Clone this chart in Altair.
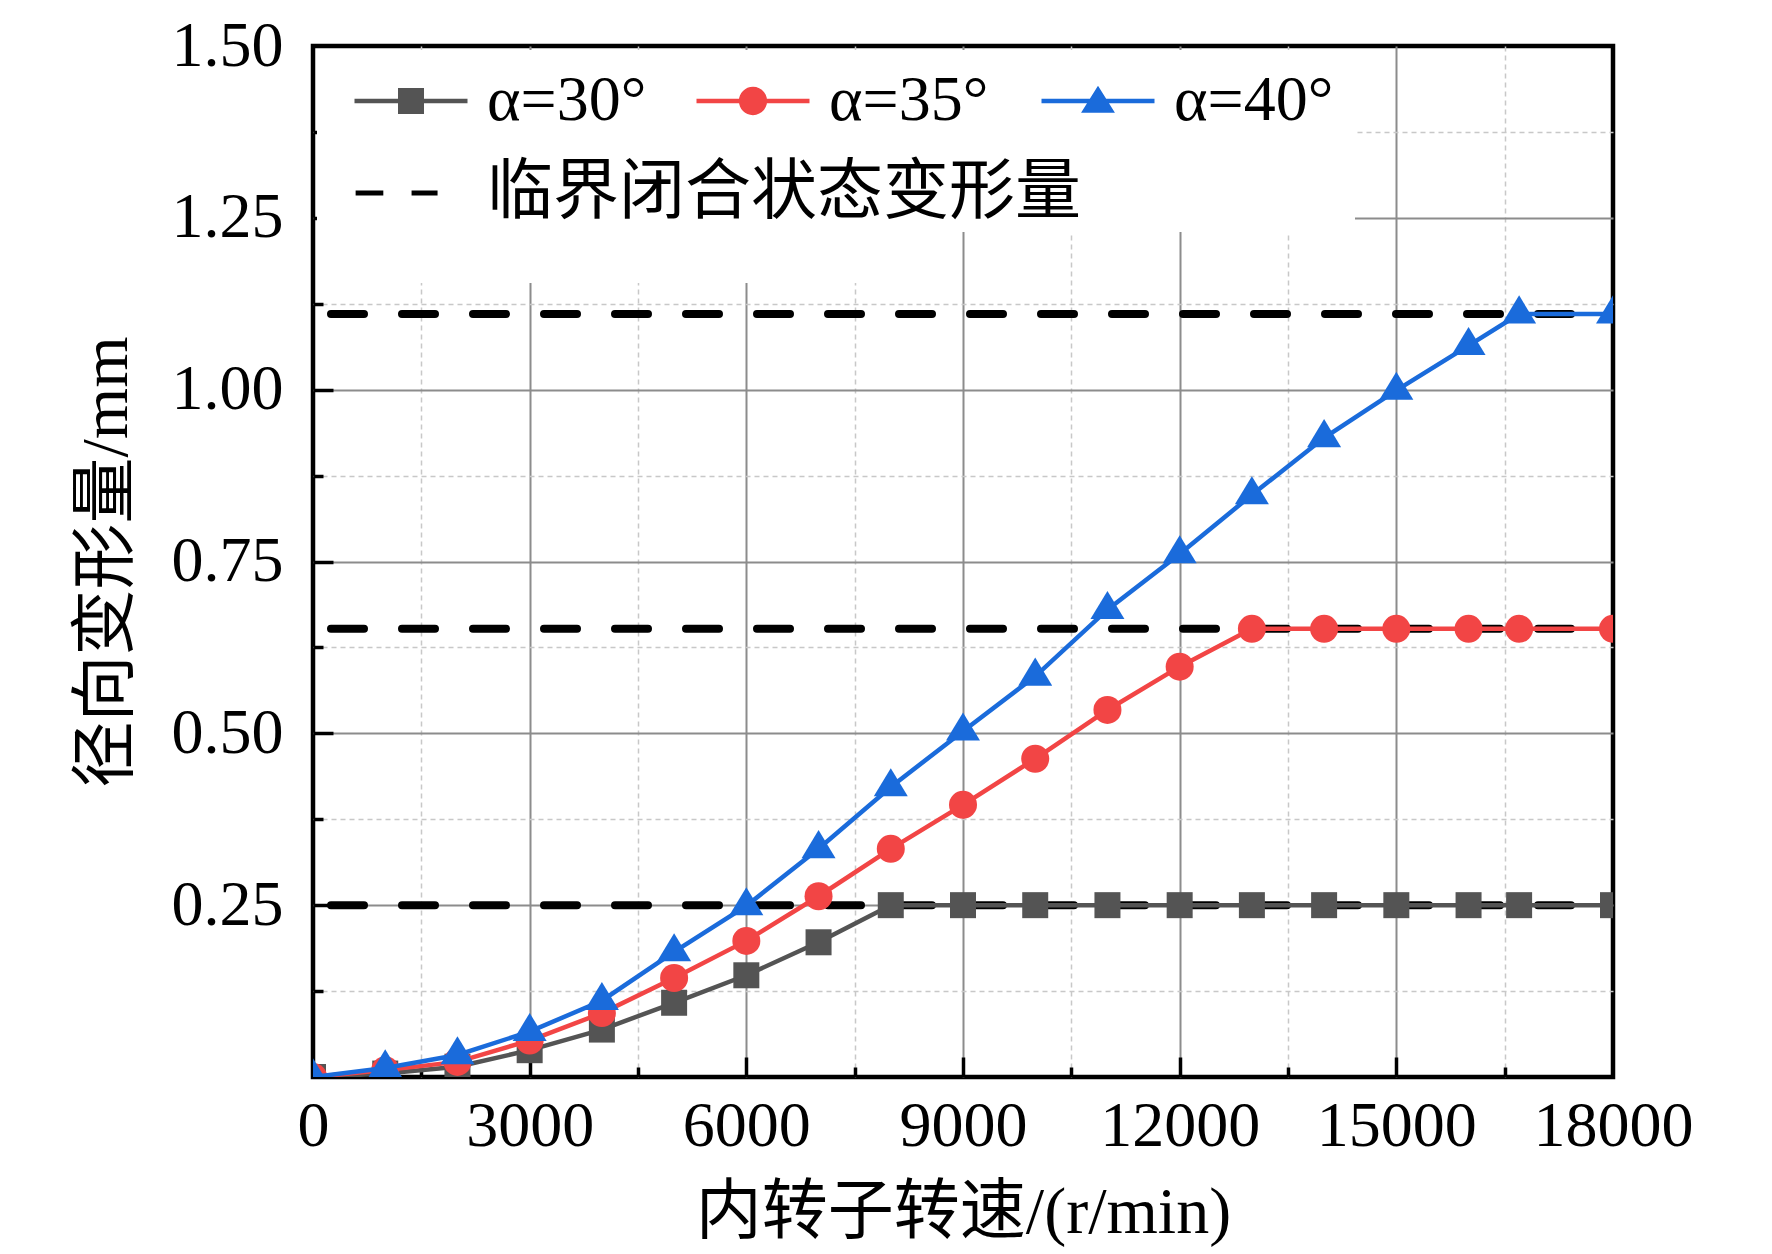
import altair as alt
import pandas as pd

# ---------------- data ----------------
rpm = [0, 1000, 2000, 3000, 4000, 5000, 6000, 7000, 8000, 9000, 10000,
       11000, 12000, 13000, 14000, 15000, 16000, 16700, 18000]
a30 = [0, 0.005, 0.015, 0.039, 0.069, 0.108, 0.148, 0.196, 0.25, 0.25,
       0.25, 0.25, 0.25, 0.25, 0.25, 0.25, 0.25, 0.25, 0.25]
a35 = [0, 0.010, 0.022, 0.053, 0.093, 0.144, 0.198, 0.263, 0.332, 0.396,
       0.463, 0.534, 0.597, 0.652, 0.652, 0.652, 0.652, 0.652, 0.652]
a40 = [0, 0.013, 0.032, 0.066, 0.111, 0.182, 0.249, 0.332, 0.422, 0.503,
       0.583, 0.680, 0.761, 0.847, 0.930, 0.999, 1.064, 1.110, 1.110]
critical = [0.25, 0.652, 1.110]

series = ["α=30°", "α=35°", "α=40°"]
crit_label = "临界闭合状态变形量"
colors = ["#545454", "#F24545", "#1A6BDB"]

y_major = [0.25, 0.5, 0.75, 1.0, 1.25]
y_labels = [0.25, 0.5, 0.75, 1.0, 1.25, 1.5]
y_minor = [0.125, 0.375, 0.625, 0.875, 1.125, 1.375]
x_labels = [0, 3000, 6000, 9000, 12000, 15000, 18000]
x_major = [3000, 6000, 9000, 12000, 15000]
x_minor = [1500, 4500, 7500, 10500, 13500, 16500]

# ---------------- layout constants ----------------
W, H = 1300, 1031
F = "Liberation Serif, Noto Sans CJK SC"

xs = alt.Scale(domain=[0, 18000], nice=False, zero=False)
ys = alt.Scale(domain=[0, 1.5], nice=False, zero=False)

df = pd.DataFrame({"rpm": rpm * 3, "v": a30 + a35 + a40,
                   "s": [series[0]] * len(rpm) + [series[1]] * len(rpm) + [series[2]] * len(rpm)})
crit_df = pd.DataFrame({"c": critical})
empty = alt.Data(values=[])

tri_pt = "M0,-1.1L1,0.55L-1,0.55Z"
shapes_pt = ["square", "circle", tri_pt]
sizes_pt = [676, 784, 1156]

# legend symbols: line stub + marker
stub = "M-1,-0.04L1,-0.04L1,0.04L-1,0.04Z "
leg_paths = [
    stub + "M-0.23,-0.23L0.23,-0.23L0.23,0.23L-0.23,0.23Z",
    stub + "M-0.25,0A0.25,0.25 0 1,1 0.25,0A0.25,0.25 0 1,1 -0.25,0Z",
    stub + "M0,-0.27L0.3,0.21L-0.3,0.21Z",
]
dash_path = ("M-0.98,-0.045L-0.49,-0.045L-0.49,0.045L-0.98,0.045Z "
             "M0.01,-0.045L0.47,-0.045L0.47,0.045L0.01,0.045Z")
SYM = 12770
leg_x = [41, 383, 728]

layers = []

# critical dashed lines
layers.append(
    alt.Chart(crit_df).mark_rule(color="black", strokeWidth=8, strokeDash=[33, 38],
                                 strokeDashOffset=29, strokeCap="round", clip=True)
    .encode(y=alt.Y("c:Q", scale=ys, axis=None))
)

# series lines + markers
for i, name in enumerate(series):
    sub = df[df["s"] == name]
    layers.append(
        alt.Chart(sub).mark_line(color=colors[i], strokeWidth=4.5, clip=True)
        .encode(x=alt.X("rpm:Q", scale=xs, axis=None), y=alt.Y("v:Q", scale=ys, axis=None))
    )
    layers.append(
        alt.Chart(sub).mark_point(shape=shapes_pt[i], filled=True, size=sizes_pt[i],
                                  color=colors[i], opacity=1, clip=True)
        .encode(x=alt.X("rpm:Q", scale=xs, axis=None), y=alt.Y("v:Q", scale=ys, axis=None))
    )

# white legend background boxes (like the Origin legend frame)
def white_box(lx, ly, w, h):
    lg = alt.Legend(orient="none", legendX=lx, legendY=ly, padding=0, title=None,
                    symbolType="square", symbolSize=w * w, symbolStrokeWidth=0,
                    labelFontSize=1, labelOpacity=0, labelOffset=0, clipHeight=h)
    return alt.Chart(empty).mark_point(filled=True, opacity=1).encode(
        color=alt.Color("w:N", scale=alt.Scale(domain=[" "], range=["white"]), legend=lg))

layers.append(white_box(4, 4, 596, 233))
layers.append(white_box(4, 4, 1038, 182))

# series legend entries
for i, name in enumerate(series):
    lg = alt.Legend(orient="none", legendX=leg_x[i], legendY=10, padding=0, title=None,
                    symbolType=leg_paths[i], symbolSize=SYM, symbolStrokeWidth=0,
                    labelFont=F, labelFontSize=64, labelColor="black", labelOffset=19,
                    labelLimit=1000, clipHeight=90)
    layers.append(
        alt.Chart(empty).mark_point(filled=True, opacity=1).encode(
            color=alt.Color("s:N", scale=alt.Scale(domain=[name], range=[colors[i]]), legend=lg))
    )

# critical-line legend entry
legB = alt.Legend(orient="none", legendX=41, legendY=82, padding=0, title=None,
                  symbolType=dash_path, symbolSize=SYM, symbolStrokeWidth=0,
                  labelFont=F, labelFontSize=66, labelColor="black",
                  labelOffset=19, labelLimit=1000, clipHeight=130)
layers.append(
    alt.Chart(empty).mark_point(filled=True, opacity=1)
    .encode(color=alt.Color("k:N", scale=alt.Scale(domain=[crit_label], range=["black"]), legend=legB))
)

# ---------------- axes ----------------
def ylayer(axis):
    return alt.Chart(empty).mark_point(opacity=0).encode(
        y=alt.Y("v:Q", scale=ys, axis=axis, title=None))

def xlayer(axis):
    return alt.Chart(empty).mark_point(opacity=0).encode(
        x=alt.X("rpm:Q", scale=xs, axis=axis, title=None))

layers.append(ylayer(alt.Axis(orient="left", values=y_minor, grid=True, gridColor="#c8c8c8",
                              gridWidth=1.5, gridDash=[5, 4], labels=False, ticks=False,
                              domain=False)))
layers.append(xlayer(alt.Axis(orient="bottom", values=x_minor, grid=True, gridColor="#c8c8c8",
                              gridWidth=1.5, gridDash=[5, 4], labels=False, ticks=False,
                              domain=False)))
layers.append(ylayer(alt.Axis(orient="left", values=y_major, grid=True, gridColor="#8c8c8c",
                              gridWidth=2, labels=False, ticks=False, domain=False)))
layers.append(xlayer(alt.Axis(orient="bottom", values=x_major, grid=True, gridColor="#8c8c8c",
                              gridWidth=2, labels=False, ticks=False, domain=False)))

layers.append(ylayer(alt.Axis(orient="right", offset=-W, values=y_major, ticks=True, tickSize=20,
                              tickWidth=3.5, tickColor="black", labels=False, domain=False,
                              grid=False)))
layers.append(ylayer(alt.Axis(orient="right", offset=-W, values=y_minor, ticks=True, tickSize=10,
                              tickWidth=3.5, tickColor="black", labels=False, domain=False,
                              grid=False)))
layers.append(xlayer(alt.Axis(orient="top", offset=-H, values=x_major, ticks=True, tickSize=20,
                              tickWidth=3.5, tickColor="black", labels=False, domain=False,
                              grid=False)))
layers.append(xlayer(alt.Axis(orient="top", offset=-H, values=x_minor, ticks=True, tickSize=10,
                              tickWidth=3.5, tickColor="black", labels=False, domain=False,
                              grid=False)))

layers.append(
    alt.Chart(empty).mark_point(opacity=0).encode(
        y=alt.Y("v:Q", scale=ys, title="径向变形量/mm",
                axis=alt.Axis(orient="left", values=y_labels, format=".2f", labelFont=F,
                              labelFontSize=64, labelColor="black", labelPadding=30,
                              labelFlush=False, labelOverlap=False, ticks=False, domain=False,
                              grid=False, titleFont=F, titleFontSize=66, titleFontWeight="normal",
                              titleColor="black", titlePadding=31)))
)
layers.append(
    alt.Chart(empty).mark_point(opacity=0).encode(
        x=alt.X("rpm:Q", scale=xs, title="内转子转速/(r/min)",
                axis=alt.Axis(orient="bottom", values=x_labels, format="d", labelFont=F,
                              labelFontSize=64, labelColor="black", labelPadding=17,
                              labelFlush=False, labelOverlap=False, ticks=False, domain=False,
                              grid=False, titleFont=F, titleFontSize=66, titleFontWeight="normal",
                              titleColor="black", titlePadding=22)))
)

chart = (
    alt.layer(*layers)
    .resolve_scale(color="independent")
    .resolve_axis(x="independent", y="independent")
    .properties(width=W, height=H, autosize=alt.AutoSizeParams(type="none"),
                padding={"left": 305, "top": 38, "right": 110, "bottom": 177})
    .configure_view(stroke="black", strokeWidth=4.5)
)

chart.save("out.html", embed_options={"renderer": "svg", "actions": False})
